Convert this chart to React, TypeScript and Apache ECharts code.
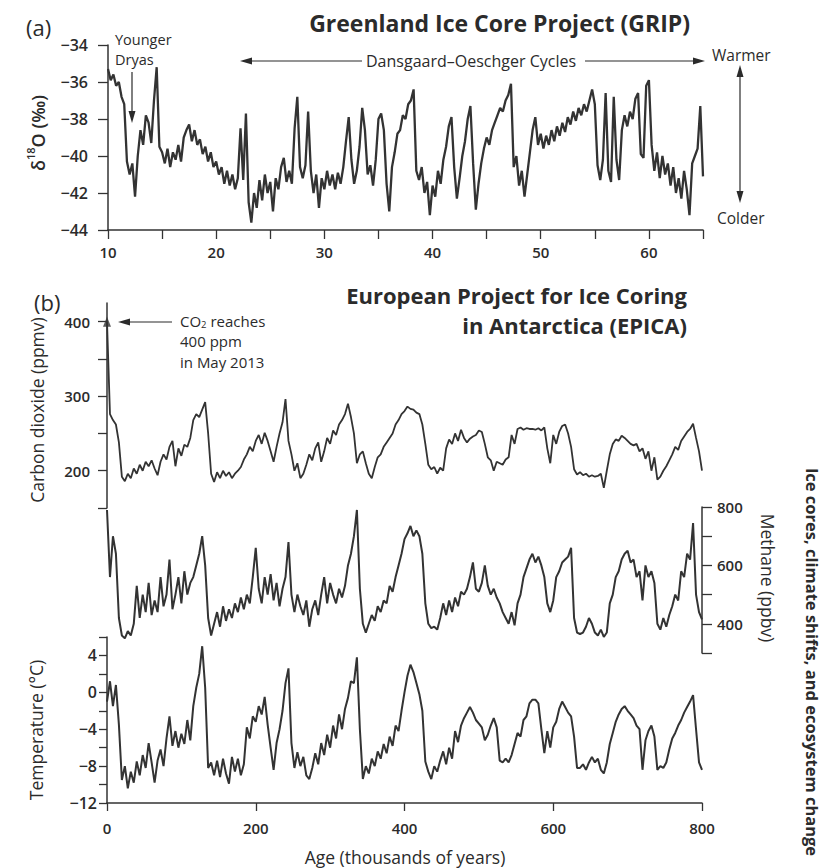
import React, { useEffect, useRef } from "react";
import * as echarts from "echarts";

// ---------- Panel (a): GRIP δ18O, sampled every 0.25 kyr from 10 to 65 kyr ----------
const gripStartKyr = 10;
const gripStepKyr = 0.25;
const gripD18O = [
  -35.3, -35.9, -35.6, -36.2, -36.0, -36.8, -37.2, -40.3, -41.0, -40.4,
  -42.2, -40.0, -38.6, -39.4, -37.8, -38.2, -39.3, -37.0, -35.2, -39.5,
  -39.8, -40.4, -39.6, -40.6, -39.8, -40.2, -39.4, -40.3, -39.0, -38.6,
  -38.3, -39.2, -38.6, -39.4, -39.1, -39.9, -39.5, -40.3, -39.8, -40.6,
  -40.3, -41.0, -40.6, -41.5, -40.8, -41.6, -41.0, -41.8, -41.2, -38.5,
  -41.3, -37.7, -42.5, -43.6, -42.0, -42.8, -41.3, -42.4, -41.0, -42.0,
  -41.4, -43.0, -41.2, -41.8, -40.6, -40.1, -41.4, -40.8, -41.5, -38.5,
  -36.8, -40.6, -41.2, -40.5, -37.6, -40.8, -42.0, -41.0, -42.8, -41.2,
  -41.8, -40.8, -41.6, -41.0, -41.8, -40.9, -41.5, -40.6, -39.2, -37.9,
  -40.2, -41.5, -40.8, -39.5, -37.4, -38.6, -41.0, -40.5, -41.6, -40.2,
  -38.0, -37.7, -38.6, -41.5, -43.0, -40.6, -39.8, -38.8,
  -38.6, -37.8, -38.0, -37.2, -37.0, -36.4, -40.8, -41.3, -40.6, -42.0,
  -41.4, -43.2, -41.6, -42.2, -40.8, -41.5, -40.2, -39.5, -38.4, -37.9,
  -40.6, -42.3, -41.2, -40.0, -39.2, -38.0, -37.3, -40.4, -42.9, -41.5,
  -40.4, -39.6, -39.0, -39.4, -38.6, -38.2, -37.8, -37.4, -37.6, -37.0,
  -36.7, -36.1, -40.6, -40.0, -41.6, -40.8, -42.2, -41.0, -39.8, -38.6,
  -37.9, -39.4, -38.8, -39.6, -38.9, -39.4, -38.6, -39.2, -38.4, -38.9,
  -38.2, -38.7, -37.9, -38.3, -37.6, -38.1, -37.4, -37.8, -37.2, -37.6,
  -37.0, -36.4, -37.2, -40.5, -41.3, -40.2, -36.6, -40.8, -41.4, -36.8,
  -40.2, -41.3, -38.6, -37.8, -38.4, -37.6, -38.0, -36.9, -36.6, -39.9,
  -40.1, -36.2, -35.9, -39.4, -40.8, -39.8, -41.2, -40.0, -41.0, -40.4,
  -41.6, -40.6, -42.0, -41.2, -42.3, -40.8, -41.8, -43.2, -40.4, -40.0,
  -39.6, -37.3, -41.1,
];
const gripAgeTicks = [10, 20, 30, 40, 50, 60];

// ---------- Panel (b): EPICA, sampled every 4 kyr from 0 to 800 kyr ----------
const epicaStartKyr = 0;
const epicaStepKyr = 4;
const co2Ppmv = [
  400, 276, 268, 262, 238, 192, 186, 196, 190, 203,
  196, 208, 200, 212, 206, 214, 203, 194, 212, 222,
  215, 232, 240, 206, 230, 220, 235, 232, 244, 268,
  276, 272, 282, 292, 250, 196, 185, 198, 190, 200,
  193, 198, 190, 196, 200, 205, 215, 222, 232, 226,
  240, 248, 236, 251, 240, 226, 212, 232, 250, 265,
  296, 240, 222, 200, 210, 190, 196, 208, 222, 214,
  230, 238, 212, 226, 244, 236, 254, 248, 262, 268,
  276, 290, 272, 250, 210, 222, 226, 210, 196, 190,
  205, 218, 222, 232, 238, 244, 250, 262, 268, 276,
  280, 286, 283, 282, 278, 276, 262, 236, 208, 202,
  205, 196, 204, 200, 230, 242, 236, 250, 240, 255,
  244, 238, 243, 246, 248, 254, 252, 236, 218, 214,
  200, 212, 210, 208, 215, 218, 248, 236, 256, 258,
  255, 257, 256, 256, 255, 257, 254, 258, 230, 210,
  248, 236, 252, 260, 262, 250, 232, 202, 195, 198,
  194, 196, 192, 194, 192, 193, 196, 177, 200, 222,
  236, 242, 240, 247, 244, 240, 236, 234, 236, 226,
  230, 216, 226, 200, 218, 188, 192, 200, 206, 214,
  222, 232, 228, 240, 246, 252, 256, 263, 244, 226,
  200,
];
const ch4Ppbv = [
  790, 560, 700, 640, 420, 360, 350, 375, 360, 400,
  530, 420, 500, 440, 540, 430, 480, 440, 560, 460,
  500, 620, 450, 500, 560, 470, 580, 500, 540, 560,
  600, 640, 700, 600, 420, 360, 400, 440, 390, 460,
  410, 450, 420, 470, 440, 490, 450, 500, 470, 560,
  660, 520, 470, 560, 500, 570, 480, 540, 460, 520,
  560, 680, 500, 440, 500, 460, 430, 480, 390, 450,
  480, 430, 500, 560, 470, 540, 500, 470, 520, 490,
  530, 600, 640, 700, 790, 520, 400, 370, 400, 430,
  410, 460, 440, 480, 470, 530, 510, 560, 600, 640,
  690, 710, 735, 700, 720, 700, 640, 470, 400, 385,
  390, 380, 420, 470, 430, 480, 440, 490, 460, 510,
  500, 520, 560, 610, 520, 510, 540, 600, 530, 500,
  520, 490, 470, 440, 420, 400, 440, 395, 470, 500,
  560, 590, 620, 640, 610, 630, 600, 560, 470, 440,
  480, 560, 580, 610, 620, 630, 660, 420, 370, 365,
  370, 390, 420, 400, 370, 360, 380, 355, 370, 470,
  500, 560, 580, 620, 640, 650, 610, 620, 560, 580,
  480, 600, 560, 580, 540, 400, 380, 420, 390, 430,
  460, 500, 480, 580, 560, 640, 620, 745, 500, 440,
  415,
];
const tempC = [
  -1.0, 1.2, -1.5, 0.8, -3.5, -9.5, -8.0, -10.4, -8.6, -9.8,
  -7.5, -9.0, -6.8, -8.2, -5.5, -7.6, -9.8, -7.4, -6.2, -8.0,
  -5.0, -2.6, -5.8, -4.2, -6.0, -4.5, -5.6, -3.0, -5.2, -1.5,
  0.5, 2.0, 5.0, 0.5, -8.2, -7.6, -9.0, -7.4, -9.2, -7.2,
  -8.8, -9.9, -7.0, -8.6, -7.2, -9.0, -7.8, -3.8, -5.0, -2.6,
  -3.2, -1.5, -2.4, -0.5, -3.5, -6.0, -8.4, -5.5, -4.0, -2.0,
  1.0, 2.6, -5.5, -8.2, -6.5, -8.0, -7.0, -9.0, -9.4, -8.2,
  -6.6, -7.8, -5.5, -6.8, -4.6, -6.0, -3.6, -5.0, -2.4, -4.0,
  -1.8, -0.6, 1.2, 1.0, 3.8, -4.0, -9.4, -8.0, -8.8, -7.2,
  -8.0, -6.4, -7.2, -5.6, -6.6, -4.8, -5.8, -3.6, -4.2, -2.0,
  0.0, 1.8, 3.0, 2.2, 1.0, -0.2, -2.0, -7.5, -8.6, -9.4,
  -8.0, -8.6, -7.4, -6.4, -7.8, -6.0, -7.2, -4.2, -5.4, -3.6,
  -2.8, -2.2, -1.6, -2.2, -3.0, -3.4, -3.8, -5.2, -4.6, -3.6,
  -2.8, -3.8, -7.4, -7.6, -7.2, -7.6, -6.8, -5.6, -4.4, -4.8,
  -3.0, -2.6, -1.2, -0.8, -0.8, -1.2, -4.0, -6.6, -4.2, -6.0,
  -3.8, -3.2, -1.8, -1.0, -1.6, -2.2, -2.6, -4.8, -8.2, -8.2,
  -7.8, -8.4, -7.6, -7.0, -7.6, -7.2, -8.4, -8.8, -7.6, -5.6,
  -4.4, -3.2, -2.4, -1.8, -1.5, -2.0, -2.4, -2.8, -3.6, -4.0,
  -8.4, -5.2, -4.2, -3.6, -4.8, -8.4, -8.0, -8.2, -7.6, -6.2,
  -5.0, -4.4, -3.6, -3.0, -2.2, -1.6, -1.0, -0.3, -4.0, -7.6,
  -8.4,
];
const co2TickValues = [150, 200, 250, 300, 350, 400];
const co2LabelValues = [200, 300, 400];
const ch4LabelValues = [400, 600, 800];
const tempLabelValues = [-12, -8, -4, 0, 4];
const co2Milestone = [[0, 400]];

const FONT = '"Open Sans", "Noto Sans", "DejaVu Sans", sans-serif';
const INK = "#2b2b2b";
const LINE = "#333333";

const toPairs = (start: number, step: number, vals: number[]) =>
  vals.map((v, i) => [start + i * step, v]);
const minus = (v: number) => String(v).replace("-", "\u2212");

function txt(x: number, y: number, text: string, opts: any = {}) {
  return {
    type: "text",
    x,
    y,
    rotation: opts.rotation || 0,
    silent: true,
    style: {
      text,
      fill: INK,
      fontFamily: FONT,
      fontSize: opts.fontSize || 15.5,
      fontWeight: opts.fontWeight || "normal",
      lineHeight: opts.lineHeight,
      align: opts.align || "left",
      verticalAlign: "middle",
      rich: opts.rich,
    },
  };
}
function seg(x1: number, y1: number, x2: number, y2: number) {
  return {
    type: "line",
    silent: true,
    shape: { x1, y1, x2, y2 },
    style: { stroke: INK, lineWidth: 1.2 },
  };
}
function head(points: number[][]) {
  return { type: "polygon", silent: true, shape: { points }, style: { fill: INK } };
}

const axisLineStyle = { onZero: false, lineStyle: { color: LINE, width: 1.5 } };
const tickLabel = { color: INK, fontFamily: FONT, fontSize: 15, fontWeight: 600 };
const AX = 17.5;

export default function App() {
  const ref = useRef<HTMLDivElement>(null);
  useEffect(() => {
    if (!ref.current) return;
    const chart = echarts.init(ref.current, null, { renderer: "svg" });
    const option: any = {
      animation: false,
      backgroundColor: "#ffffff",
      grid: [
        { left: 108, top: 45, width: 595, height: 185 },
        { left: 107, top: 303, width: 595, height: 205 },
        { left: 107, top: 507, width: 595, height: 146 },
        { left: 107, top: 637, width: 595, height: 166 },
      ],
      xAxis: [
        {
          gridIndex: 0, type: "value", min: 10, max: 65, interval: 5,
          axisLine: axisLineStyle,
          axisTick: { length: 9, lineStyle: { color: LINE, width: 1.3 } },
          axisLabel: {
            ...tickLabel, margin: 14,
            formatter: (v: number) => (gripAgeTicks.includes(v) ? String(v) : ""),
          },
          splitLine: { show: false },
        },
        { gridIndex: 1, type: "value", min: 0, max: 800, show: false },
        { gridIndex: 2, type: "value", min: 0, max: 800, show: false },
        {
          gridIndex: 3, type: "value", min: 0, max: 800, interval: 200,
          axisLine: axisLineStyle,
          axisTick: { length: 8, lineStyle: { color: LINE, width: 1.3 } },
          axisLabel: { ...tickLabel, margin: 17 },
          splitLine: { show: false },
        },
      ],
      yAxis: [
        {
          gridIndex: 0, type: "value", min: -44, max: -34, interval: 2,
          axisLine: { show: true, ...axisLineStyle },
          axisTick: { show: true, length: 10, lineStyle: { color: LINE, width: 1.3 } },
          axisLabel: { ...tickLabel, fontSize: 16, margin: 20, formatter: minus },
          splitLine: { show: false },
        },
        {
          gridIndex: 1, type: "value", min: 150, max: 425,
          axisLine: { show: true, ...axisLineStyle },
          axisTick: { show: true, length: 9, customValues: co2TickValues, lineStyle: { color: LINE, width: 1.3 } },
          axisLabel: { ...tickLabel, margin: 17, customValues: co2LabelValues },
          splitLine: { show: false },
        },
        {
          gridIndex: 2, type: "value", position: "right", min: 300, max: 800, interval: 100,
          axisLine: { show: true, ...axisLineStyle },
          axisTick: { show: true, length: 10, lineStyle: { color: LINE, width: 1.3 } },
          axisLabel: {
            ...tickLabel, margin: 15,
            formatter: (v: number) => (ch4LabelValues.includes(v) ? String(v) : ""),
          },
          splitLine: { show: false },
        },
        {
          gridIndex: 3, type: "value", min: -12, max: 6, interval: 2,
          axisLine: { show: true, ...axisLineStyle },
          axisTick: { show: true, length: 8, lineStyle: { color: LINE, width: 1.3 } },
          axisLabel: {
            ...tickLabel, fontSize: 16, margin: 10,
            formatter: (v: number) => (tempLabelValues.includes(v) ? minus(v) : ""),
          },
          splitLine: { show: false },
        },
      ],
      series: [
        {
          name: "GRIP δ18O", type: "line", xAxisIndex: 0, yAxisIndex: 0,
          data: toPairs(gripStartKyr, gripStepKyr, gripD18O),
          showSymbol: false, lineStyle: { color: LINE, width: 2.3 },
        },
        {
          name: "CO2", type: "line", xAxisIndex: 1, yAxisIndex: 1,
          data: toPairs(epicaStartKyr, epicaStepKyr, co2Ppmv),
          showSymbol: false, lineStyle: { color: LINE, width: 1.8 },
        },
        {
          name: "CO2 2013", type: "scatter", xAxisIndex: 1, yAxisIndex: 1,
          data: co2Milestone, symbol: "triangle", symbolSize: [8, 10],
          itemStyle: { color: LINE },
        },
        {
          name: "CH4", type: "line", xAxisIndex: 2, yAxisIndex: 2,
          data: toPairs(epicaStartKyr, epicaStepKyr, ch4Ppbv),
          showSymbol: false, lineStyle: { color: LINE, width: 2.0 },
        },
        {
          name: "Temperature", type: "line", xAxisIndex: 3, yAxisIndex: 3,
          data: toPairs(epicaStartKyr, epicaStepKyr, tempC),
          showSymbol: false, lineStyle: { color: LINE, width: 2.0 },
        },
      ],
      graphic: [
        // panel (a)
        txt(26, 27, "(a)", { fontSize: 22 }),
        txt(690, 23, "Greenland Ice Core Project (GRIP)", { fontSize: 23, fontWeight: "bold", align: "right" }),
        txt(36, 133, "{a|δ}{b|18}{a|O (‰)}", {
          rotation: Math.PI / 2, align: "center",
          rich: {
            a: { fontFamily: FONT, fontSize: 18, fontWeight: 600, fill: INK, lineHeight: 22, verticalAlign: "bottom" },
            b: { fontFamily: FONT, fontSize: 11, fontWeight: 600, fill: INK, lineHeight: 12, verticalAlign: "top" },
          },
        }),
        txt(115, 49.5, "Younger\nDryas", { fontSize: 14.5, lineHeight: 20.5 }),
        seg(132, 72, 132, 114),
        head([[132, 123], [128.5, 111], [135.5, 111]]),
        seg(248, 61, 362, 61),
        head([[240, 61], [252, 57.5], [252, 64.5]]),
        txt(366, 61, "Dansgaard\u2013Oeschger Cycles", { fontSize: 16 }),
        seg(585, 61, 696, 61),
        head([[705, 61], [693, 57.5], [693, 64.5]]),
        txt(712, 55, "Warmer"),
        txt(717, 218, "Colder"),
        seg(740, 74, 740, 194),
        head([[740, 65], [736.5, 77], [743.5, 77]]),
        head([[740, 203], [736.5, 191], [743.5, 191]]),
        // panel (b)
        txt(34, 302, "(b)", { fontSize: 22 }),
        txt(687, 310, "European Project for Ice Coring\nin Antarctica (EPICA)", {
          fontSize: 22, fontWeight: "bold", align: "right", lineHeight: 30.5,
        }),
        seg(127, 322, 172, 322),
        head([[118, 322], [130, 318.5], [130, 325.5]]),
        txt(180, 321, "{a|CO}{s|2}{a| reaches}", {
          rich: {
            a: { fontFamily: FONT, fontSize: 15, fill: INK, lineHeight: 16, verticalAlign: "middle" },
            s: { fontFamily: FONT, fontSize: 9.5, fill: INK, lineHeight: 9, verticalAlign: "bottom" },
          },
        }),
        txt(180, 351.5, "400 ppm\nin May 2013", { fontSize: 15, lineHeight: 20.5 }),
        txt(37, 410, "Carbon dioxide (ppmv)", { fontSize: AX, rotation: Math.PI / 2, align: "center" }),
        txt(768, 578, "Methane (ppbv)", { fontSize: AX, rotation: -Math.PI / 2, align: "center" }),
        txt(36, 730, "Temperature (°C)", { fontSize: AX, rotation: Math.PI / 2, align: "center" }),
        txt(405, 857, "Age (thousands of years)", { fontSize: AX, align: "center" }),
        txt(812, 662, "Ice cores, climate shifts, and ecosystem change", {
          fontSize: 16.5, fontWeight: "bold", rotation: -Math.PI / 2, align: "center",
        }),
      ],
    };
    chart.setOption(option);
    return () => chart.dispose();
  }, []);
  return (
    <div
      ref={ref}
      style={{ position: "fixed", left: 0, top: 0, width: 827, height: 868, background: "#fff" }}
    />
  );
}
